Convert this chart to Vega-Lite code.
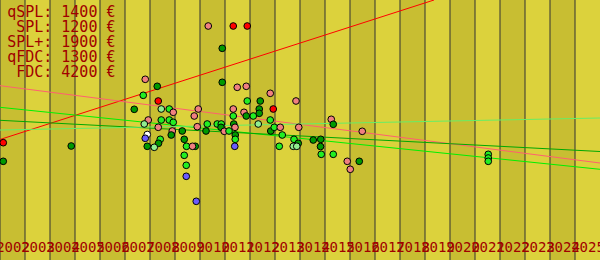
{
  "$schema": "https://vega.github.io/schema/vega-lite/v6.json",
  "width": 600,
  "height": 260,
  "autosize": {"type": "none"},
  "padding": 0,
  "background": "#dcd23c",
  "config": {
    "view": {"stroke": null},
    "axis": {"labelFont": "monospace", "labelFontSize": 14, "labelColor": "#a00000"}
  },
  "title": {
    "text": ["qSPL: 1400 €", "SPL: 1200 €", "SPL+: 1900 €", "qFDC: 1300 €", "FDC: 4200 €"],
    "anchor": "start",
    "align": "right",
    "frame": "group",
    "orient": "top",
    "offset": -92.4,
    "baseline": "alphabetic",
    "dx": 115.5,
    "font": "monospace",
    "fontSize": 15,
    "fontWeight": "normal",
    "lineHeight": 15,
    "color": "#a00000"
  },
  "datasets": {
    "bands": [
      {"x": 2002, "b": 2003, "shade": "d"}, {"x": 2003, "b": 2004, "shade": "l"},
      {"x": 2004, "b": 2005, "shade": "d"}, {"x": 2005, "b": 2006, "shade": "l"},
      {"x": 2006, "b": 2007, "shade": "d"}, {"x": 2007, "b": 2008, "shade": "l"},
      {"x": 2008, "b": 2009, "shade": "d"}, {"x": 2009, "b": 2010, "shade": "l"},
      {"x": 2010, "b": 2011, "shade": "d"}, {"x": 2011, "b": 2012, "shade": "l"},
      {"x": 2012, "b": 2013, "shade": "d"}, {"x": 2013, "b": 2014, "shade": "l"},
      {"x": 2014, "b": 2015, "shade": "d"}, {"x": 2015, "b": 2016, "shade": "l"},
      {"x": 2016, "b": 2017, "shade": "d"}, {"x": 2017, "b": 2018, "shade": "l"},
      {"x": 2018, "b": 2019, "shade": "d"}, {"x": 2019, "b": 2020, "shade": "l"},
      {"x": 2020, "b": 2021, "shade": "d"}, {"x": 2021, "b": 2022, "shade": "l"},
      {"x": 2022, "b": 2023, "shade": "d"}, {"x": 2023, "b": 2024, "shade": "l"},
      {"x": 2024, "b": 2025, "shade": "d"}, {"x": 2025, "b": 2026, "shade": "l"}
    ],
    "trends": [
      {"s": "SPL+", "x": 2002, "v": 120.5}, {"s": "SPL+", "x": 2019.36, "v": 260},
      {"s": "qSPL", "x": 2002, "v": 174.3}, {"s": "qSPL", "x": 2026, "v": 97},
      {"s": "SPL", "x": 2002, "v": 152.7}, {"s": "SPL", "x": 2026, "v": 90.7},
      {"s": "FDC", "x": 2002, "v": 139.7}, {"s": "FDC", "x": 2026, "v": 108.5},
      {"s": "qFDC", "x": 2002, "v": 130}, {"s": "qFDC", "x": 2026, "v": 142}
    ],
    "points": [
      {"s": "FDC", "x": 2002.13, "v": 98.7},
      {"s": "SPL+", "x": 2002.13, "v": 117.3},
      {"s": "FDC", "x": 2004.85, "v": 114},
      {"s": "FDC", "x": 2007.37, "v": 150.7},
      {"s": "qSPL", "x": 2007.81, "v": 180.7},
      {"s": "FDC", "x": 2008.29, "v": 173.7},
      {"s": "SPL", "x": 2007.73, "v": 164.7},
      {"s": "SPL+", "x": 2008.33, "v": 159},
      {"s": "qFDC", "x": 2008.45, "v": 151},
      {"s": "SPL", "x": 2008.77, "v": 151},
      {"s": "qSPL", "x": 2008.93, "v": 147.7},
      {"s": "qSPL", "x": 2009.93, "v": 151},
      {"s": "qSPL", "x": 2009.77, "v": 144},
      {"s": "qSPL", "x": 2007.93, "v": 140},
      {"s": "SPL", "x": 2008.45, "v": 140},
      {"s": "SPL", "x": 2008.77, "v": 140},
      {"s": "SPL", "x": 2008.93, "v": 137.7},
      {"s": "qFDC", "x": 2007.77, "v": 136},
      {"s": "qSPL", "x": 2008.33, "v": 132.7},
      {"s": "qSPL", "x": 2008.89, "v": 129},
      {"s": "FDC", "x": 2008.85, "v": 125},
      {"s": "FDC", "x": 2009.29, "v": 129},
      {"s": "qSPL", "x": 2009.89, "v": 133.3},
      {"s": "none", "x": 2007.89, "v": 125.5},
      {"s": "other", "x": 2007.81, "v": 121.7},
      {"s": "SPL", "x": 2008.41, "v": 120.7},
      {"s": "FDC", "x": 2009.37, "v": 120.7},
      {"s": "FDC", "x": 2008.34, "v": 116.7},
      {"s": "FDC", "x": 2007.89, "v": 113.7},
      {"s": "qFDC", "x": 2008.17, "v": 112.7},
      {"s": "FDC", "x": 2009.81, "v": 113.7},
      {"s": "SPL", "x": 2009.46, "v": 113.7},
      {"s": "qSPL", "x": 2009.70, "v": 113.7},
      {"s": "SPL", "x": 2009.37, "v": 104.7},
      {"s": "SPL", "x": 2009.45, "v": 94.7},
      {"s": "other", "x": 2009.45, "v": 83.7},
      {"s": "other", "x": 2009.85, "v": 58.7},
      {"s": "qSPL", "x": 2010.33, "v": 234},
      {"s": "SPL+", "x": 2011.33, "v": 234},
      {"s": "SPL+", "x": 2011.89, "v": 234},
      {"s": "FDC", "x": 2010.89, "v": 211.7},
      {"s": "FDC", "x": 2010.89, "v": 177.7},
      {"s": "qSPL", "x": 2011.49, "v": 172.7},
      {"s": "qSPL", "x": 2011.85, "v": 173.7},
      {"s": "qSPL", "x": 2012.81, "v": 166.7},
      {"s": "SPL", "x": 2011.89, "v": 159},
      {"s": "FDC", "x": 2012.41, "v": 159},
      {"s": "qSPL", "x": 2013.84, "v": 159},
      {"s": "qSPL", "x": 2011.33, "v": 151},
      {"s": "SPL+", "x": 2012.93, "v": 151},
      {"s": "FDC", "x": 2012.37, "v": 151},
      {"s": "qSPL", "x": 2011.76, "v": 147.7},
      {"s": "FDC", "x": 2012.37, "v": 146.7},
      {"s": "SPL", "x": 2011.33, "v": 144},
      {"s": "FDC", "x": 2011.85, "v": 144},
      {"s": "SPL", "x": 2012.13, "v": 144},
      {"s": "SPL", "x": 2012.81, "v": 140},
      {"s": "SPL", "x": 2010.29, "v": 136},
      {"s": "SPL", "x": 2010.69, "v": 136},
      {"s": "SPL", "x": 2010.85, "v": 136},
      {"s": "FDC", "x": 2011.35, "v": 136},
      {"s": "qFDC", "x": 2012.33, "v": 136},
      {"s": "qSPL", "x": 2011.40, "v": 132.7},
      {"s": "FDC", "x": 2010.84, "v": 132.7},
      {"s": "FDC", "x": 2010.24, "v": 129},
      {"s": "qSPL", "x": 2010.97, "v": 128.7},
      {"s": "SPL", "x": 2011.16, "v": 129},
      {"s": "FDC", "x": 2012.83, "v": 129},
      {"s": "SPL", "x": 2012.97, "v": 132.7},
      {"s": "qSPL", "x": 2013.21, "v": 132.7},
      {"s": "qSPL", "x": 2013.95, "v": 132.7},
      {"s": "FDC", "x": 2011.41, "v": 125},
      {"s": "SPL", "x": 2013.29, "v": 125},
      {"s": "SPL", "x": 2011.41, "v": 120.7},
      {"s": "SPL", "x": 2013.76, "v": 120.7},
      {"s": "other", "x": 2011.39, "v": 113.7},
      {"s": "SPL", "x": 2013.17, "v": 113.7},
      {"s": "FDC", "x": 2013.93, "v": 116.7},
      {"s": "qFDC", "x": 2013.73, "v": 113.7},
      {"s": "qFDC", "x": 2013.87, "v": 113.7},
      {"s": "FDC", "x": 2014.53, "v": 120},
      {"s": "FDC", "x": 2014.83, "v": 120.7},
      {"s": "FDC", "x": 2014.82, "v": 113.5},
      {"s": "SPL", "x": 2014.85, "v": 105.7},
      {"s": "qSPL", "x": 2015.25, "v": 140.7},
      {"s": "FDC", "x": 2015.33, "v": 135.7},
      {"s": "SPL", "x": 2015.33, "v": 105.7},
      {"s": "qSPL", "x": 2016.49, "v": 128.7},
      {"s": "qSPL", "x": 2015.89, "v": 98.7},
      {"s": "FDC", "x": 2016.37, "v": 98.7},
      {"s": "qSPL", "x": 2016.01, "v": 90.7},
      {"s": "SPL", "x": 2021.53, "v": 105.7},
      {"s": "SPL", "x": 2021.53, "v": 102},
      {"s": "SPL", "x": 2021.53, "v": 98.7}
    ]
  },
  "encoding": {
    "x": {"field": "x", "type": "quantitative", "scale": {"domain": [2002, 2026], "nice": false, "zero": false},
      "axis": {"orient": "bottom", "values": [2002,2003,2004,2005,2006,2007,2008,2009,2010,2011,2012,2013,2014,2015,2016,2017,2018,2019,2020,2021,2022,2023,2024,2025],
        "format": "d", "title": null, "domain": false, "ticks": false, "tickSize": 0, "grid": false,
        "offset": -10, "labelPadding": 1.7, "labelBaseline": "alphabetic", "labelOffset": 12.5, "labelAlign": "center",
        "labelFlush": false, "labelOverlap": false, "labelBound": false,
        "labelFont": "monospace", "labelFontSize": 14, "labelColor": "#a00000", "zindex": 1}}
  },
  "layer": [
    {
      "data": {"name": "bands"},
      "mark": {"type": "rect"},
      "encoding": {
        "x2": {"field": "b"},
        "fill": {"field": "shade", "type": "nominal", "scale": {"domain": ["d", "l"], "range": ["#c8be32", "#dcd23c"]}, "legend": null}
      }
    },
    {
      "data": {"name": "bands"},
      "mark": {"type": "rule", "color": "#333333", "strokeWidth": 1},
      "encoding": {}
    },
    {
      "data": {"name": "trends"},
      "mark": {"type": "line", "strokeWidth": 1, "clip": true},
      "encoding": {
        "y": {"field": "v", "type": "quantitative", "scale": {"domain": [0, 260], "nice": false, "zero": false}, "axis": null},
        "stroke": {"field": "s", "type": "nominal", "scale": {"domain": ["SPL+", "qSPL", "SPL", "FDC", "qFDC"], "range": ["#ff0000", "#ff6070", "#00f000", "#00a800", "#66ee66"]}, "legend": null}
      }
    },
    {
      "data": {"name": "points"},
      "mark": {"type": "circle", "size": 45, "stroke": "#000000", "strokeWidth": 1, "opacity": 1},
      "encoding": {
        "y": {"field": "v", "type": "quantitative"},
        "color": {"field": "s", "type": "nominal", "scale": {"domain": ["SPL+", "qSPL", "SPL", "FDC", "qFDC", "other", "none"], "range": ["#ff0000", "#f08080", "#22ee22", "#009900", "#90ee90", "#6b5bff", "#ffffff"]}, "legend": null}
      }
    }
  ]
}
